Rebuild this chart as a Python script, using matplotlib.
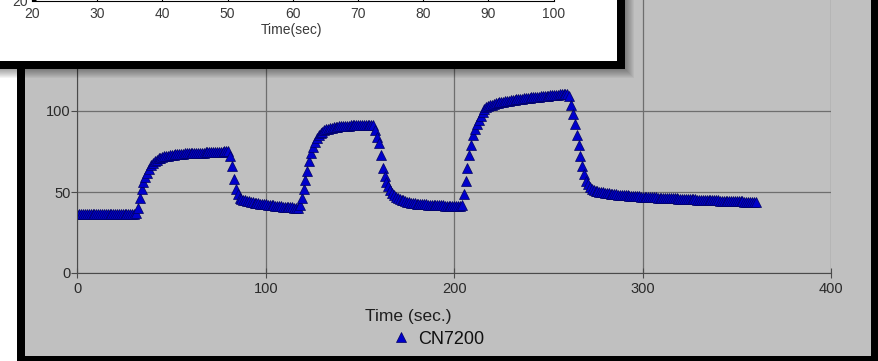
import numpy as np
import matplotlib.pyplot as plt
from matplotlib.patches import Rectangle

# sensor reading, one sample per second (0..360 s)
time_sec = np.arange(0, 361)
cn7200 = [
    36.5, 36.5, 36.5, 36.5, 36.5, 36.5, 36.5, 36.5, 36.5, 36.5,
    36.5, 36.5, 36.5, 36.5, 36.5, 36.5, 36.5, 36.5, 36.5, 36.5,
    36.5, 36.5, 36.5, 36.5, 36.5, 36.5, 36.5, 36.5, 36.5, 36.5,
    36.5, 37, 40, 46, 52, 56, 59, 62, 64.5, 66.5,
    68, 69.2, 70, 70.7, 71.2, 71.6, 72, 72.3, 72.5, 72.7,
    72.9, 73.1, 73.2, 73.4, 73.5, 73.6, 73.7, 73.8, 73.9, 73.95,
    74.0, 74.05, 74.1, 74.15, 74.2, 74.25, 74.3, 74.35, 74.4, 74.45,
    74.5, 74.55, 74.6, 74.65, 74.7, 74.8, 74.9, 75.0, 75.2, 75.4,
    75.5, 72, 66, 58, 52, 48.5, 46.5, 45.8, 45.3, 44.9,
    44.5, 44.2, 43.9, 43.6, 43.4, 43.2, 43.0, 42.8, 42.6, 42.45,
    42.3, 42.15, 42.0, 41.85, 41.7, 41.55, 41.4, 41.25, 41.1, 41.0,
    40.9, 40.8, 40.7, 40.6, 40.5, 40.4, 40.3, 40.3, 42, 46,
    52, 57.5, 63, 69, 74, 78, 81, 83.2, 85, 86.3,
    87.3, 88, 88.6, 89, 89.4, 89.7, 89.9, 90.1, 90.3, 90.45,
    90.6, 90.7, 90.8, 90.9, 91.0, 91.05, 91.1, 91.15, 91.2, 91.25,
    91.3, 91.35, 91.4, 91.45, 91.5, 91.5, 91.5, 91.2, 88, 84,
    80, 73, 65, 60, 56, 53.5, 51, 49.5, 48, 47,
    46.3, 45.8, 45.3, 44.9, 44.5, 44.1, 43.8, 43.5, 43.3, 43.1,
    42.9, 42.75, 42.6, 42.5, 42.4, 42.3, 42.2, 42.1, 42.0, 41.95,
    41.9, 41.85, 41.8, 41.75, 41.7, 41.65, 41.6, 41.6, 41.6, 41.55,
    41.5, 41.5, 41.5, 41.5, 42, 49, 57, 65, 73, 79,
    85, 89, 92, 94.7, 97, 99.2, 101, 102.2, 103, 103.5,
    104, 104.4, 104.8, 105.1, 105.4, 105.6, 105.8, 106.0, 106.2, 106.4,
    106.6, 106.8, 107.0, 107.15, 107.3, 107.45, 107.6, 107.75, 107.9, 108.05,
    108.2, 108.35, 108.5, 108.65, 108.8, 108.9, 109.0, 109.15, 109.3, 109.4,
    109.5, 109.65, 109.8, 109.9, 110.0, 110.15, 110.3, 110.4, 110.5, 110.6,
    110.7, 109, 104, 98, 92, 85, 79, 72, 66, 61,
    57, 55, 53, 52, 51.2, 50.8, 50.4, 50.1, 49.9, 49.7,
    49.5, 49.35, 49.2, 49.05, 48.9, 48.75, 48.6, 48.45, 48.3, 48.2,
    48.1, 48.0, 47.9, 47.8, 47.7, 47.6, 47.5, 47.4, 47.3, 47.2,
    47.1, 47.05, 47.0, 46.9, 46.8, 46.75, 46.7, 46.65, 46.6, 46.55,
    46.5, 46.4, 46.3, 46.25, 46.2, 46.15, 46.1, 46.05, 46.0, 45.95,
    45.9, 45.8, 45.7, 45.65, 45.6, 45.55, 45.5, 45.45, 45.4, 45.35,
    45.3, 45.25, 45.2, 45.15, 45.1, 45.05, 45.0, 44.95, 44.9, 44.85,
    44.8, 44.75, 44.7, 44.65, 44.6, 44.55, 44.5, 44.45, 44.4, 44.35,
    44.3, 44.25, 44.2, 44.15, 44.1, 44.05, 44.0, 44.0, 44.0, 43.95,
    43.9,
]

x_ticks = [0, 100, 200, 300, 400]
y_ticks = [0, 50, 100]
inset_ticks = [20, 30, 40, 50, 60, 70, 80, 90, 100]

W, H = 879, 361
GRAY = "#c0c0c0"
FONT = ["Liberation Sans", "DejaVu Sans"]
NARROW = ["Liberation Sans Narrow", "Liberation Sans", "DejaVu Sans"]


def box(x0, y0, x1, y1, **kw):
    # pixel box (top-left origin) -> figure rectangle
    return Rectangle((x0 / W, 1 - y1 / H), (x1 - x0) / W, (y1 - y0) / H,
                     transform=fig.transFigure, **kw)


fig = plt.figure(figsize=(W / 100, H / 100), dpi=100)
fig.patch.set_facecolor("white")

# grey chart panel with thick black frame
fig.add_artist(box(17, -20, 890, 361, facecolor="black", edgecolor="none", zorder=0))
fig.add_artist(box(25, -20, 871, 356, facecolor=GRAY, edgecolor="none", zorder=0))

ax = fig.add_axes([77.5 / W, 1 - 273 / H, (831 - 77.5) / W, 273 / H])
ax.set_zorder(1)
ax.set_facecolor(GRAY)
ax.plot(time_sec, cn7200, linestyle="none", marker="^", markersize=7.5,
        color="#0000cc", markeredgecolor="#000060", markeredgewidth=0.5,
        label="CN7200")
ax.set_xlim(0, 400)
ax.set_ylim(0, 273 / 1.62)
ax.set_xticks(x_ticks)
ax.set_yticks(y_ticks)
ax.grid(True, color="#6e6e6e", linewidth=0.9)
for s in ["top", "right"]:
    ax.spines[s].set_visible(False)
for s in ["left", "bottom"]:
    ax.spines[s].set_color("#4a4a4a")
ax.tick_params(axis="x", direction="inout", length=7, width=0.8, color="#4a4a4a",
               labelsize=10.5, labelcolor="#2a2a2a", pad=3)
ax.tick_params(axis="y", direction="out", length=4, width=0.8, color="#4a4a4a",
               labelsize=10.5, labelcolor="#2a2a2a", pad=1)
for lab in ax.get_xticklabels() + ax.get_yticklabels():
    lab.set_family(FONT)

fig.text(408 / W, 1 - 317 / H, "Time (sec.)", ha="center", va="center",
         fontsize=12.5, color="#1e1e1e", family=FONT, zorder=3)
leg = fig.legend(loc="center left", bbox_to_anchor=(392 / W, 1 - 339 / H),
                 frameon=False, numpoints=1, handlelength=1.0, handletextpad=0.45,
                 borderpad=0, borderaxespad=0, prop={"family": FONT, "size": 13})
for t in leg.get_texts():
    t.set_color("#111111")

# overlapping white chart clipped at the top left, with drop shadow
for i in range(10):
    fig.add_artist(box(-20, -20, 625 + i, 69 + i, facecolor="black",
                       edgecolor="none", alpha=0.045, zorder=2))
fig.add_artist(box(-20, -20, 625, 69, facecolor="black", edgecolor="none", zorder=2))
fig.add_artist(box(-20, -20, 617, 61, facecolor="white", edgecolor="none", zorder=2))

ins = fig.add_axes([32 / W, 1 - 0.5 / H, (553.6 - 32) / W, 0.3])
ins.set_zorder(3)
ins.set_facecolor("none")
ins.set_xlim(20, 100)
ins.set_ylim(20, 100)
ins.set_xticks(inset_ticks)
ins.set_yticks([20])
for s in ["top", "right"]:
    ins.spines[s].set_visible(False)
ins.tick_params(direction="in", length=3, width=0.8, labelsize=10,
                labelcolor="#3a3a3a", pad=5)
ins.tick_params(axis="y", pad=3)
for lab in ins.get_xticklabels() + ins.get_yticklabels():
    lab.set_family(NARROW)
fig.text(292 / W, 1 - 30 / H, "Time(sec)", ha="center", va="center",
         fontsize=10, color="#3a3a3a", family=NARROW, zorder=4)

fig.savefig("out.png", dpi=100)
